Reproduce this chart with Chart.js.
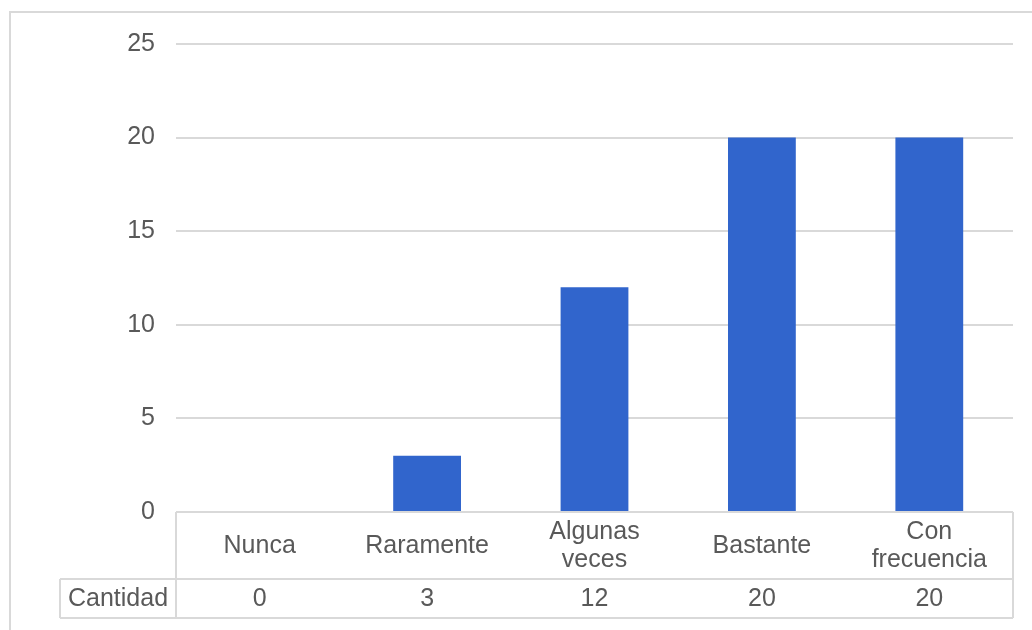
<!DOCTYPE html>
<html>
<head>
<meta charset="utf-8">
<script src="https://cdn.jsdelivr.net/npm/chart.js@4.4.1/dist/chart.umd.min.js"></script>
<style>
  html, body { margin: 0; padding: 0; background: #ffffff; }
  #wrap { width: 1032px; height: 630px; position: relative; }
</style>
</head>
<body>
<div id="wrap"><canvas id="c" width="1032" height="630"></canvas></div>
<script>
// Categories (multi-line labels as arrays) and the single series
const categories = [['Nunca'], ['Raramente'], ['Algunas', 'veces'], ['Bastante'], ['Con', 'frecuencia']];
const seriesName = 'Cantidad';
const cantidad = [0, 3, 12, 20, 20];
const yTicks = [0, 5, 10, 15, 20, 25];

const FONT = '"Liberation Sans", Arial, sans-serif';
const TEXT = '#595959';
const LINE = '#d9d9d9';

// Frame around the chart plus the data table under the plot
const tablePlugin = {
  id: 'dataTable',
  beforeDraw(chart) {
    const ctx = chart.ctx;
    ctx.save();
    ctx.strokeStyle = LINE;
    ctx.lineWidth = 2;
    ctx.beginPath();
    ctx.moveTo(10, 640);
    ctx.lineTo(10, 12);
    ctx.lineTo(1040, 12);
    ctx.stroke();
    ctx.restore();
  },
  afterDraw(chart) {
    const ctx = chart.ctx;
    const x = chart.scales.x;
    const area = chart.chartArea;
    const left = area.left, right = area.right;
    const top = area.bottom;
    const mid = top + 67;
    const bottom = top + 106;
    const headLeft = 60;

    ctx.save();
    ctx.strokeStyle = LINE;
    ctx.lineWidth = 2;
    ctx.beginPath();
    // outer verticals of the category block
    ctx.moveTo(left, top); ctx.lineTo(left, bottom);
    ctx.moveTo(right, top); ctx.lineTo(right, bottom);
    // row divider and bottom line, including the series-name cell
    ctx.moveTo(headLeft, mid); ctx.lineTo(right, mid);
    ctx.moveTo(headLeft, bottom); ctx.lineTo(right, bottom);
    ctx.moveTo(headLeft, mid); ctx.lineTo(headLeft, bottom);
    ctx.stroke();

    ctx.fillStyle = TEXT;
    ctx.font = '25px ' + FONT;
    ctx.textAlign = 'center';
    ctx.textBaseline = 'middle';
    const lh = 28;
    const headCenter = (top + mid) / 2 + 1;
    const rowCenter = (mid + bottom) / 2 + 1;
    categories.forEach((lines, i) => {
      const cx = x.getPixelForValue(i);
      const y0 = headCenter - (lines.length - 1) * lh / 2;
      lines.forEach((t, j) => ctx.fillText(t, cx, y0 + j * lh));
      ctx.fillText(String(cantidad[i]), cx, rowCenter);
    });
    ctx.fillText(seriesName, (headLeft + left) / 2, rowCenter);
    ctx.restore();
  }
};

new Chart(document.getElementById('c'), {
  type: 'bar',
  data: {
    labels: categories,
    datasets: [{
      label: seriesName,
      data: cantidad,
      backgroundColor: '#3165cc',
      borderWidth: 0,
      categoryPercentage: 1.0,
      barPercentage: 0.405
    }]
  },
  options: {
    responsive: false,
    animation: false,
    devicePixelRatio: 1,
    layout: { padding: { top: 44, right: 19, bottom: 0, left: 0 } },
    plugins: { legend: { display: false }, tooltip: { enabled: false } },
    scales: {
      x: {
        grid: { display: false },
        border: { display: false },
        ticks: { display: false },
        afterFit(scale) { scale.height = 118; }
      },
      y: {
        min: 0,
        max: 25,
        afterBuildTicks(scale) { scale.ticks = yTicks.map(v => ({ value: v })); },
        grid: { color: LINE, lineWidth: 2, drawTicks: false },
        border: { display: false },
        ticks: {
          color: TEXT,
          padding: 21,
          font: { family: FONT, size: 25 }
        },
        afterFit(scale) { scale.width = 176; }
      }
    }
  },
  plugins: [tablePlugin]
});
</script>
</body>
</html>
